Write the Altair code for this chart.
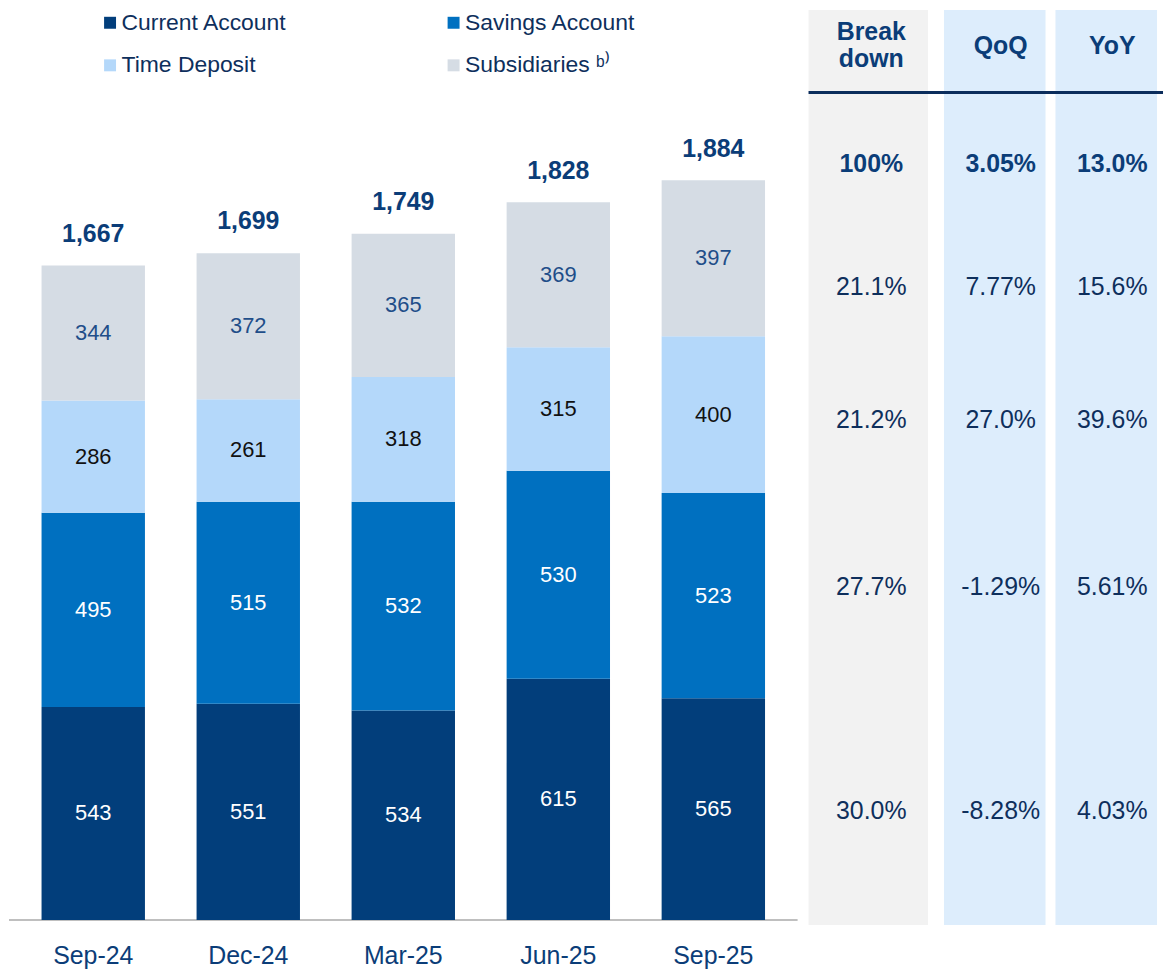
import altair as alt
import pandas as pd

# ---------------- data ----------------
periods = ["Sep-24", "Dec-24", "Mar-25", "Jun-25", "Sep-25"]
series = ["Current Account", "Savings Account", "Time Deposit", "Subsidiaries ᵇ⁾"]
current_account = [543, 551, 534, 615, 565]
savings_account = [495, 515, 532, 530, 523]
time_deposit = [286, 261, 318, 315, 400]
subsidiaries = [344, 372, 365, 369, 397]
totals = [1667, 1699, 1749, 1828, 1884]

table_columns = ["Breakdown", "QoQ", "YoY"]
breakdown = ["Break", "down", "100%", "21.1%", "21.2%", "27.7%", "30.0%"]
qoq = ["QoQ", "3.05%", "7.77%", "27.0%", "-1.29%", "-8.28%"]
yoy = ["YoY", "13.0%", "15.6%", "39.6%", "5.61%", "4.03%"]

# ---------------- layout / style ----------------
W = 1157
H = 919
y_domain = [-13, 2319]
anchor_breakdown = [2264, 2193, 1927, 1612, 1274, 848, 277]   # row anchors (value units)
anchor_other = [2228, 1927, 1612, 1274, 848, 277]
bold_breakdown = [1, 1, 1, 0, 0, 0, 0]
bold_other = [1, 1, 0, 0, 0, 0]
header_line_at = 2109
# horizontal layout of the table (layout units = px from the plot's left edge)
col_left = [803, 939, 1051]
col_right = [923, 1041, 1153]
col_text_dx = [3, 6, 6]
col_fill = ["#F2F2F2", "#DDEDFC", "#DDEDFC"]
header_line_x = [803, 1159]
axis_line_x = [0, 792]
bar_range = [0, 792]

FONT = "Liberation Sans"
NAVY = "#0B3D78"
TXT = "#0E2F5C"
bar_colors = ["#023E7B", "#0070C0", "#B4D8FA", "#D5DCE4"]
label_colors = ["#FFFFFF", "#FFFFFF", "#111111", "#1F4E89"]

# ---------------- tables ----------------
recs = []
vals = [current_account, savings_account, time_deposit, subsidiaries]
for si, s in enumerate(series):
    for pi, p in enumerate(periods):
        recs.append({"period": p, "series": s, "idx": si, "value": vals[si][pi]})
bars_df = pd.DataFrame(recs)
tot_df = pd.DataFrame({"period": periods, "total": totals,
                       "label": [f"{t:,}" for t in totals]})

yscale = alt.Scale(domain=y_domain, nice=False, zero=False)
tscale = alt.Scale(domain=[0, W], nice=False, zero=False)
xband = alt.Scale(paddingInner=0.333, paddingOuter=0.21, range=bar_range)
xaxis = alt.Axis(title=None, labelAngle=0, domain=False, ticks=False, labelPadding=19,
                 labelFontSize=25, labelFont=FONT, labelColor=NAVY)

# ---------------- bars group ----------------
base = alt.Chart(bars_df)
bars = base.mark_bar().encode(
    x=alt.X("period:N", sort=periods, axis=xaxis, scale=xband),
    y=alt.Y("value:Q", stack="zero", scale=yscale, axis=None),
    color=alt.Color("series:N", scale=alt.Scale(domain=series, range=bar_colors),
                    legend=alt.Legend(orient="none", legendX=90, legendY=1, columns=2,
                                      direction="horizontal",
                                      title=None, symbolType="square", symbolSize=144,
                                      symbolStrokeWidth=0, labelFontSize=23, labelFont=FONT,
                                      labelColor=TXT, labelOffset=0, columnPadding=155,
                                      rowPadding=19, padding=0, labelLimit=400)),
    order=alt.Order("idx:Q", sort="ascending"),
)

seg_base = base.transform_window(
    cum="sum(value)", groupby=["period"], sort=[alt.SortField("idx", order="ascending")],
    frame=[None, 0]
).transform_calculate(mid="datum.cum - datum.value / 2")
seg_layers = []
for si in range(len(series)):
    seg_layers.append(
        seg_base.transform_filter(f"datum.idx == {si}").mark_text(
            fontSize=22, font=FONT, baseline="middle", color=label_colors[si]
        ).encode(
            x=alt.X("period:N", sort=periods),
            y=alt.Y("mid:Q", scale=yscale),
            text=alt.Text("value:Q"),
        )
    )

tot_labels = alt.Chart(tot_df).mark_text(
    fontSize=25, font=FONT, fontWeight="bold", color=NAVY, baseline="alphabetic", dy=-24
).encode(
    x=alt.X("period:N", sort=periods),
    y=alt.Y("total:Q", scale=yscale),
    text="label:N",
)

bar_group = alt.layer(bars, *seg_layers, tot_labels)

# ---------------- table group ----------------
panel_df = pd.DataFrame({"col": table_columns, "x0": col_left, "x1": col_right,
                         "fill": col_fill, "top": y_domain[1], "bottom": y_domain[0]})
trows = []
for ci, (texts, anchors, bolds) in enumerate([(breakdown, anchor_breakdown, bold_breakdown),
                                              (qoq, anchor_other, bold_other),
                                              (yoy, anchor_other, bold_other)]):
    cx = (col_left[ci] + col_right[ci]) / 2 + col_text_dx[ci]
    for t, a, b in zip(texts, anchors, bolds):
        trows.append({"col": table_columns[ci], "text": t, "pos": a, "bold": b, "cx": cx})
table_df = pd.DataFrame(trows)
line_df = pd.DataFrame({"x0": [header_line_x[0]], "x1": [header_line_x[1]], "y": [header_line_at]})
axis_df = pd.DataFrame({"x0": [axis_line_x[0]], "x1": [axis_line_x[1]], "y": [0]})

zero_rule = alt.Chart(axis_df).mark_rule(color="#BFBFBF", strokeWidth=2).encode(
    x=alt.X("x0:Q", scale=tscale, axis=None), x2="x1:Q", y=alt.Y("y:Q", scale=yscale)
)
panel_layers = []
for fc in sorted(set(col_fill)):
    panel_layers.append(
        alt.Chart(panel_df).transform_filter(alt.FieldEqualPredicate(field="fill", equal=fc))
        .mark_rect(color=fc).encode(
            x=alt.X("x0:Q", scale=tscale, axis=None), x2="x1:Q",
            y=alt.Y("top:Q", scale=yscale), y2="bottom:Q",
        )
    )
header_rule = alt.Chart(line_df).mark_rule(color="#0B2D5C", strokeWidth=3).encode(
    x=alt.X("x0:Q", scale=tscale, axis=None), x2="x1:Q", y=alt.Y("y:Q", scale=yscale)
)
tbase = alt.Chart(table_df)
tenc = dict(x=alt.X("cx:Q", scale=tscale, axis=None), y=alt.Y("pos:Q", scale=yscale),
            text="text:N")
t_bold = tbase.transform_filter("datum.bold == 1").mark_text(
    fontSize=25, font=FONT, fontWeight="bold", color=NAVY, baseline="middle"
).encode(**tenc)
t_norm = tbase.transform_filter("datum.bold == 0").mark_text(
    fontSize=25, font=FONT, color=TXT, baseline="middle"
).encode(**tenc)

table_group = alt.layer(zero_rule, *panel_layers, header_rule, t_bold, t_norm)

chart = alt.layer(table_group, bar_group).resolve_scale(x="independent").properties(
    width=W, height=H, padding=0
).configure(font=FONT).configure_view(strokeWidth=0)

chart.save("out.html", embed_options={"renderer": "svg", "actions": False})
